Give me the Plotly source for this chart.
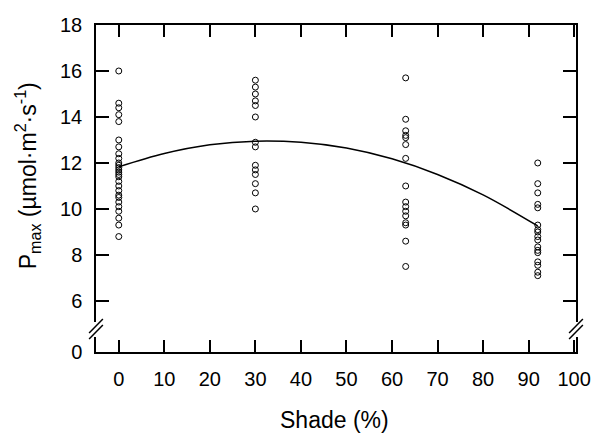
import plotly.graph_objects as go

# ---- data ----
shade_0 = [0] * 27
pmax_0 = [16.0, 14.6, 14.4, 14.1, 13.8, 13.0, 12.7, 12.4, 12.2, 12.0, 11.9, 11.8, 11.7,
          11.6, 11.5, 11.4, 11.2, 11.0, 10.8, 10.6, 10.5, 10.3, 10.1, 9.9, 9.6, 9.3, 8.8]
shade_30 = [30] * 14
pmax_30 = [15.6, 15.3, 15.0, 14.7, 14.5, 14.0, 12.9, 12.7, 11.9, 11.7, 11.5, 11.1, 10.7, 10.0]
shade_63 = [63] * 16
pmax_63 = [15.7, 13.9, 13.4, 13.2, 13.1, 12.8, 12.2, 11.0, 10.3, 10.1, 9.9, 9.7, 9.4, 9.3, 8.6, 7.5]
shade_92 = [92] * 17
pmax_92 = [12.0, 11.1, 10.7, 10.2, 10.05, 9.3, 9.1, 9.0, 8.8, 8.65, 8.35, 8.2, 8.1, 7.7, 7.55, 7.25, 7.1]

fit_shade = [0, 10, 20, 30, 40, 50, 60, 70, 80, 92]
fit_pmax = [11.83, 12.41, 12.79, 12.95, 12.90, 12.65, 12.18, 11.50, 10.61, 9.26]

x_ticks = [0, 10, 20, 30, 40, 50, 60, 70, 80, 90, 100]
y_tick_vals = [3.78, 6, 8, 10, 12, 14, 16, 18]
y_tick_text = ["0", "6", "8", "10", "12", "14", "16", "18"]

# ---- figure ----
W, H = 603, 435
L, R, T, B = 96, 18, 25, 83
pw, ph = W - L - R, H - T - B

def px(xp):
    return (xp - L) / pw

def py(yp):
    return (H - B - yp) / ph

FONT = "Liberation Sans, Arial, sans-serif"
fig = go.Figure()
marker = dict(symbol="circle-open", size=6, color="black", line=dict(width=1, color="black"))
all_x = shade_0 + shade_30 + shade_63 + shade_92
all_y = pmax_0 + pmax_30 + pmax_63 + pmax_92
fig.add_trace(go.Scatter(x=all_x, y=all_y, mode="markers", marker=marker, showlegend=False))
fig.add_trace(go.Scatter(x=fit_shade, y=fit_pmax, mode="lines",
                         line=dict(color="black", width=1.5, shape="spline"), showlegend=False))

axis_common = dict(showline=True, linecolor="black", linewidth=1.5, mirror="ticks",
                   ticks="inside", tickcolor="black", tickwidth=1.5, showgrid=False,
                   zeroline=False, tickfont=dict(family=FONT, size=20, color="black"))
fig.update_xaxes(range=[-5, 100.4], tickvals=x_ticks, ticklen=12, ticklabelstandoff=8,
                 **axis_common)
fig.update_yaxes(range=[3.78, 18], tickvals=y_tick_vals, ticktext=y_tick_text, ticklen=13,
                 ticklabelstandoff=8, **axis_common)

shapes = []
for ax in (96, 585):
    # gap in the axis line
    shapes.append(dict(type="rect", xref="paper", yref="paper", layer="above",
                       x0=px(ax - 3), x1=px(ax + 3), y0=py(337), y1=py(322),
                       fillcolor="white", line=dict(width=0)))
    for dy in (0, 6):
        shapes.append(dict(type="line", xref="paper", yref="paper", layer="above",
                           x0=px(ax - 7), y0=py(333 + dy), x1=px(ax + 7), y1=py(319 + dy),
                           line=dict(color="black", width=1.5)))

annotations = [
    dict(text="Shade (%)", xref="paper", yref="paper", x=px(339), y=py(420),
         xanchor="center", yanchor="middle", showarrow=False,
         font=dict(family=FONT, size=23, color="black")),
    dict(text="P<sub>max</sub> (µmol·m<sup>2</sup>·s<sup>-1</sup>)", xref="paper", yref="paper",
         x=px(26), y=py(176), xanchor="center", yanchor="middle", textangle=-90,
         showarrow=False, font=dict(family=FONT, size=23, color="black")),
]

fig.update_layout(width=W, height=H, margin=dict(l=L, r=R, t=T, b=B),
                  paper_bgcolor="white", plot_bgcolor="white",
                  shapes=shapes, annotations=annotations)

fig.write_html("out.html")
